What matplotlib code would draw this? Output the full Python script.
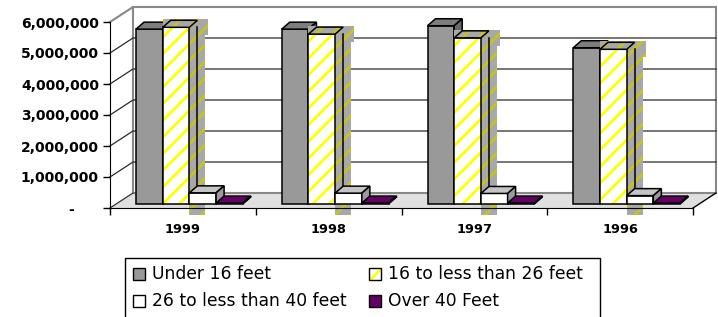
import matplotlib.pyplot as plt
from matplotlib.patches import Rectangle, Polygon

# Registered boats by length
years = ['1999', '1998', '1997', '1996']
series = ['Under 16 feet', '16 to less than 26 feet',
          '26 to less than 40 feet', 'Over 40 Feet']
under_16 = [5640000, 5640000, 5750000, 5040000]
ft_16_26 = [5700000, 5480000, 5360000, 4990000]
ft_26_40 = [360000, 350000, 340000, 270000]
over_40 = [30000, 30000, 30000, 30000]
values = [under_16, ft_16_26, ft_26_40, over_40]

W_PX, H_PX = 718, 317
fig = plt.figure(figsize=(W_PX / 100, H_PX / 100), dpi=100)
ax = fig.add_axes([110 / W_PX, 109 / H_PX, 583 / W_PX, 186 / H_PX])
ax.set_xlim(0, len(years))
ax.set_ylim(0, 6000000)

# pixel -> data helpers
PX = len(years) / 583
PY = 6000000 / 186
DX, DY = 23 * PX, 15 * PY        # wall depth
BDX, BDY = 8 * PX, 7 * PY        # bar depth
OFF, BW, Y0 = 26 * PX, 26.7 * PX, 4 * PY
n = len(years)
top = 6000000

def poly(pts, **kw):
    p = Polygon(pts, closed=True, clip_on=False, **kw)
    ax.add_patch(p)
    return p

# floor and walls
poly([(0, 0), (n, 0), (n + DX, DY), (DX, DY)], facecolor='#e0e0e0',
     edgecolor='none', zorder=1)
poly([(DX, DY), (n + DX, DY), (n + DX, top + DY), (DX, top + DY)],
     facecolor='white', edgecolor='#888888', lw=1.5, zorder=1)
ax.plot([0, DX], [top, top + DY], color='#888888', lw=1.5, clip_on=False, zorder=1)
ax.plot([DX, DX], [DY, top + DY], color='#888888', lw=1.2, clip_on=False, zorder=1)
for k in range(1, 6):
    yk = k * 1000000
    ax.plot([0, DX, n + DX], [yk, yk + DY, yk + DY], color='#2a2a2a', lw=0.9,
            clip_on=False, zorder=1.5)
ax.plot([0, DX], [0, DY], color='#333333', lw=0.9, clip_on=False, zorder=1.5)
ax.plot([n, n + DX], [0, DY], color='black', lw=1, clip_on=False, zorder=1.5)

plt.rcParams['hatch.linewidth'] = 2.0

def box3d(x0, v, front, topc, side, z):
    ax.add_patch(Rectangle((x0, Y0), BW, v, facecolor=front, edgecolor='black',
                           lw=1.1, clip_on=False, zorder=z))
    poly([(x0, Y0 + v), (x0 + BW, Y0 + v), (x0 + BW + BDX, Y0 + v + BDY),
          (x0 + BDX, Y0 + v + BDY)], facecolor=topc, edgecolor='black',
         lw=1.1, zorder=z)
    poly([(x0 + BW, Y0), (x0 + BW + BDX, Y0 + BDY),
          (x0 + BW + BDX, Y0 + v + BDY), (x0 + BW, Y0 + v)],
         facecolor=side, edgecolor='black', lw=1.1, zorder=z)

def olive(pts, z, edge=None):
    poly(pts, facecolor='#a8a8a8', edgecolor='#c4c41a', hatch='//', lw=0, zorder=z)
    if edge:
        poly(pts, facecolor='none', edgecolor='black', lw=1.1, zorder=z)

for i in range(n):
    z = 3 + i * 10
    base = i + OFF
    # under 16 feet
    box3d(base, values[0][i], '#999999', '#7d7d7d', '#6a6a6a', z)
    # 16 to 26 feet (hatched yellow, with its odd striped top/side)
    x0 = base + BW
    v = values[1][i]
    olive([(x0 + BW, -7 * PY), (x0 + BW + 16 * PX, -7 * PY),
           (x0 + BW + 16 * PX, Y0 + v), (x0 + BW, Y0 + v)], z + 1)
    olive([(x0, Y0 + v - 8 * PY), (x0 + BW + 19 * PX, Y0 + v - 8 * PY),
           (x0 + BW + 19 * PX, Y0 + v + BDY + 1 * PY), (x0, Y0 + v + BDY + 1 * PY)], z + 1)
    ax.add_patch(Rectangle((x0, Y0), BW, v, facecolor='white', edgecolor='#ffff00',
                           hatch='//', lw=0, clip_on=False, zorder=z + 2))
    ax.add_patch(Rectangle((x0, Y0), BW, v, facecolor='none', edgecolor='black',
                           lw=1.1, clip_on=False, zorder=z + 2))
    ax.plot([x0 + BW + BDX] * 2, [Y0 + BDY, Y0 + v], color='black', lw=1.1,
            clip_on=False, zorder=z + 2)
    olive([(x0, Y0 + v), (x0 + BW, Y0 + v), (x0 + BW + BDX, Y0 + v + BDY),
           (x0 + BDX, Y0 + v + BDY)], z + 2, edge=True)
    # 26 to 40 feet
    box3d(base + 2 * BW, values[2][i], 'white', '#c4c4c4', '#9a9a9a', z + 3)
    # over 40 feet
    box3d(base + 3 * BW, values[3][i], '#660066', '#660066', '#4a004a', z + 4)

# axes styling
for s in ['top', 'right']:
    ax.spines[s].set_visible(False)
ax.spines['left'].set_zorder(60)
ax.spines['bottom'].set_zorder(60)
ax.patch.set_visible(False)
yt = list(range(0, 7000000, 1000000))
ax.set_yticks(yt)
ax.set_yticklabels(['-     '] + ['{:,}'.format(t) for t in yt[1:]],
                   fontsize=10, fontweight='bold')
ax.tick_params(axis='y', direction='out', length=5, width=1, pad=3)
ax.set_xticks(range(n + 1))
ax.set_xticklabels([])
ax.set_xticks([i + 0.5 for i in range(n)], minor=True)
ax.set_xticklabels(years, minor=True, fontsize=9.3, fontweight='bold')
ax.tick_params(axis='x', which='major', direction='out', length=5, width=1)
ax.tick_params(axis='x', which='minor', length=0, pad=11)

# legend box
def fx(px):
    return px / W_PX

def fy(py):
    return 1 - py / H_PX

fig.add_artist(Rectangle((fx(125), fy(330)), fx(600) - fx(125), fy(258) - fy(330),
                         transform=fig.transFigure, facecolor='white',
                         edgecolor='black', lw=1))
rows = [274, 301]
cols = [(133, 152), (369, 388)]
marks = [('#999999', None), ('white', '//'), ('white', None), ('#660066', None)]
for k, name in enumerate(series):
    mx, tx = cols[k % 2]
    ry = rows[k // 2]
    fc, h = marks[k]
    if h:
        fig.add_artist(Rectangle((fx(mx), fy(ry + 6)), fx(12), 12 / H_PX,
                                 transform=fig.transFigure, facecolor='white',
                                 edgecolor='#ffff00', hatch='//', lw=0))
        fc = 'none'
    fig.add_artist(Rectangle((fx(mx), fy(ry + 6)), fx(12), 12 / H_PX,
                             transform=fig.transFigure, facecolor=fc,
                             edgecolor='black', lw=1))
    fig.text(fx(tx), fy(ry), name, fontsize=12.3, va='center', ha='left')

fig.savefig('out.png', dpi=100)
